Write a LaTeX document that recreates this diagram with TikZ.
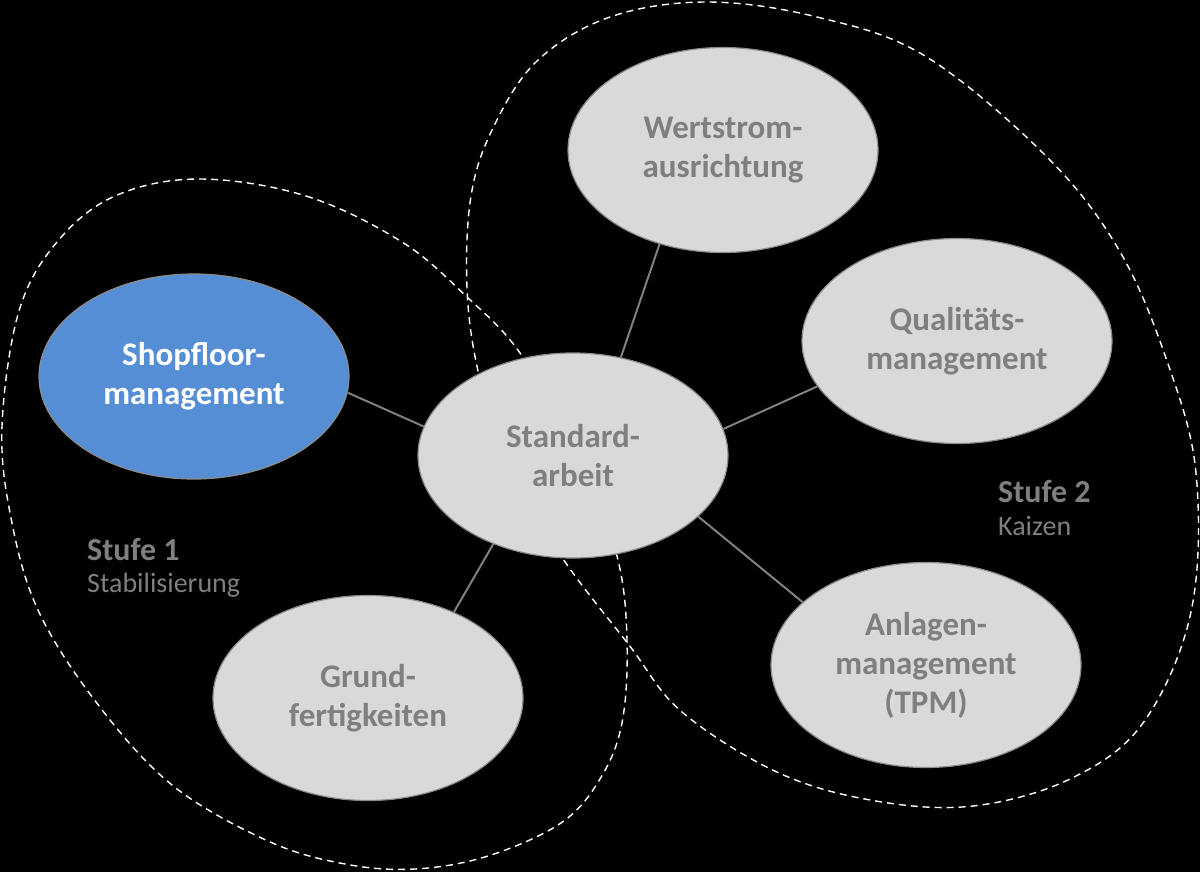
\documentclass[tikz,border=0pt]{standalone}
\usepackage{fontspec}
\setmainfont{Carlito}
\usetikzlibrary{shapes.geometric}
\definecolor{ellfill}{HTML}{D9D9D9}
\definecolor{ellline}{HTML}{8C8C8C}
\definecolor{txtgray}{HTML}{7F7F7F}
\definecolor{shopblue}{HTML}{558ED5}
\definecolor{conncol}{HTML}{808080}
\begin{document}
\begin{tikzpicture}[x=1pt,y=-1pt,
  bubble/.style={ellipse, draw=ellline, line width=1.2pt, fill=ellfill,
    minimum width=310pt, minimum height=205pt, inner sep=0pt, align=center,
    text=txtgray, font=\bfseries\fontsize{33}{39}\selectfont},
  hot/.style={bubble, fill=shopblue, text=white},
  conn/.style={draw=conncol, line width=2pt},
  zone/.style={draw=white, line width=1.4pt, dash pattern=on 7pt off 5pt},
  stage/.style={anchor=base west, text=txtgray, inner sep=0pt,
    font=\bfseries\fontsize{32}{38}\selectfont},
  sublabel/.style={anchor=base west, text=txtgray, inner sep=0pt,
    font=\fontsize{28}{34}\selectfont}]
\useasboundingbox (0,0) rectangle (1200,872);
\fill[black] (0,0) rectangle (1200,872);
% Stufe 1 zone
\draw[zone] plot[smooth cycle, tension=0.6] coordinates {(199,179) (306,196) (402,242) (467,297) (520,353) (580,455) (617,556) (627,640) (622,723) (600,779) (561,823) (488,856) (415,869) (345,864) (268,841) (172,785) (96,702) (38,610) (11,518) (2,426) (19,311) (57,242) (115,196)};
% Stufe 2 zone
\draw[zone] plot[smooth cycle, tension=0.6] coordinates {(707,2) (817,17) (925,56) (1046,156) (1119,250) (1167,361) (1196,473) (1191,612) (1143,723) (1070,779) (973,806) (876,801) (779,773) (682,712) (629,645) (561,556) (505,460) (478,371) (467,288) (471,196) (493,128) (537,61) (610,17)};
% bubbles
\node[hot] (shop) at (194,376.5) {Shopfloor-\\management};
\node[bubble] (std) at (573,455.5) {Standard-\\arbeit};
\node[bubble] (wert) at (723,150) {Wertstrom-\\ausrichtung};
\node[bubble] (qual) at (957,341) {Qualitäts-\\management};
\node[bubble] (anl) at (926,665) {Anlagen-\\management\\(TPM)};
\node[bubble] (grund) at (368,698) {Grund-\\fertigkeiten};
% connectors
\draw[conn] (std.169.2) -- (shop.-6.5);
\draw[conn] (std.64.3) -- (wert.236.4);
\draw[conn] (std.10.5) -- (qual.198.1);
\draw[conn] (std.-26.7) -- (anl.153.1);
\draw[conn] (std.228.2) -- (grund.45);
% labels
\node[stage] (s1) at (87,560) {Stufe 1};
\node[sublabel] (s1b) at (87,592) {Stabilisierung};
\node[stage] (s2) at (998,502) {Stufe 2};
\node[sublabel] (s2b) at (998,535) {Kaizen};
\end{tikzpicture}
\end{document}
